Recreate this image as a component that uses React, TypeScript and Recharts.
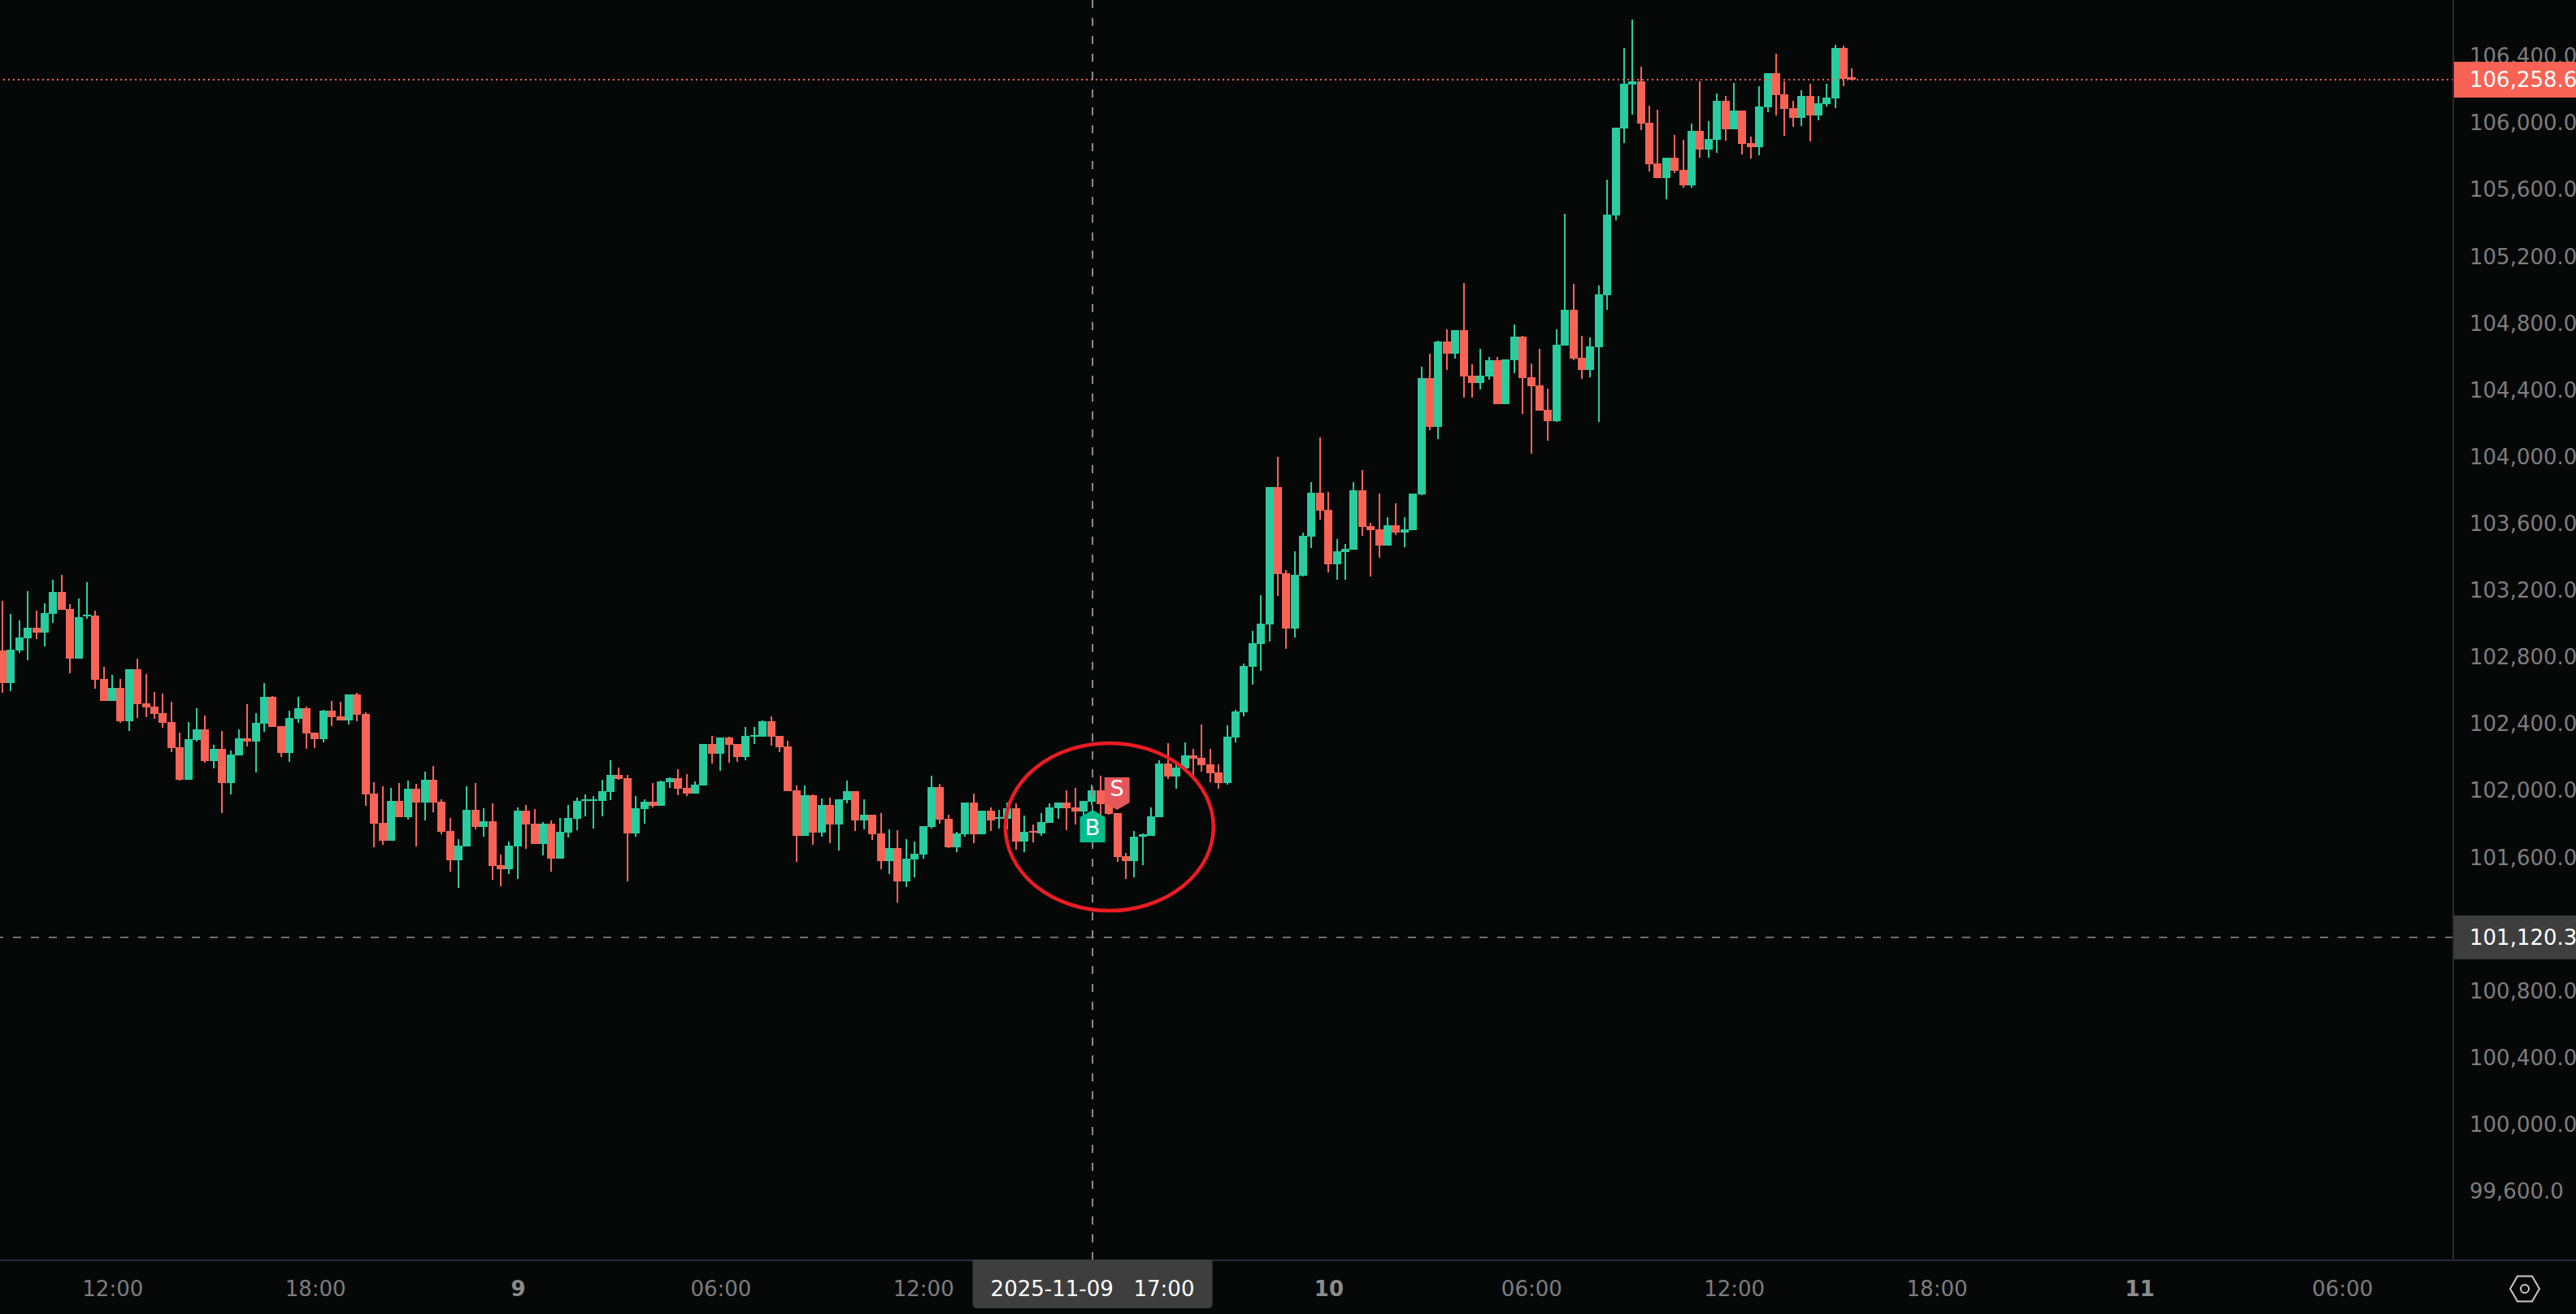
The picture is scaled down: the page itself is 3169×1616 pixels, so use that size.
import React from 'react';
import { ComposedChart, Bar, XAxis, YAxis, ReferenceLine, ReferenceDot } from 'recharts';

const opens = [
102838,102644,102838,102912,102975,102946,103058,103189,103087,102790,
103043,103048,102668,102536,102614,102415,102726,102522,102502,102463,
102410,102259,102064,102303,102366,102176,102249,102044,102210,102312,
102293,102400,102561,102385,102225,102429,102493,102346,102307,102478,
102444,102420,102575,102458,101981,101806,101698,101937,101840,102010,
101928,102064,101933,101758,101582,101665,101884,101782,101816,101553,
101529,101665,101879,101801,101680,101801,101592,101748,101831,101938,
101938,101938,101991,102094,102074,101743,101889,101933,101909,102050,
102074,102016,101982,102030,102279,102220,102318,102279,102201,102323,
102323,102415,102327,102264,102001,101728,101972,101748,101913,101797,
101943,101996,101821,101855,101743,101578,101656,101456,101587,101617,
101782,102021,101831,101661,101738,101928,101738,101880,101831,101831,
101894,101695,101758,101743,101807,101894,101928,101899,101875,101933,
102002,101922,101865,101607,101578,101724,101729,101841,102162,102084,
102133,102211,102196,102157,102108,102044,102317,102468,102742,102878,
102995,103817,103301,102971,103286,103521,103784,103681,103355,103428,
103443,103799,103584,103564,103467,103588,103545,103560,103775,104471,
104178,104690,104617,104758,104485,104441,104480,104578,104315,104578,
104719,104475,104427,104281,104212,104665,104880,104592,104519,104656,
104968,105445,105966,106229,106249,106000,105757,105669,105791,105718,
105625,105952,105840,105898,106132,105961,106074,105879,105854,106093,
106298,106171,106088,106030,106161,106044,106112,106147,106449,106273,
];
const closes = [
102644,102843,102916,102975,102946,103062,103189,103082,102790,103038,
103053,102663,102536,102614,102415,102726,102517,102497,102458,102405,
102254,102064,102307,102366,102176,102249,102044,102215,102312,102293,
102405,102561,102380,102225,102434,102493,102342,102307,102478,102439,
102420,102575,102454,101976,101801,101698,101937,101840,102010,101927,
102064,101928,101753,101582,101670,101884,101782,101816,101548,101529,
101670,101879,101796,101680,101801,101592,101753,101835,101938,101947,
101947,101996,102094,102069,101743,101894,101933,101909,102055,102074,
102011,101982,102035,102279,102220,102318,102274,102201,102327,102332,
102415,102323,102259,101996,101728,101972,101748,101913,101797,101948,
101996,101821,101855,101738,101578,101656,101456,101592,101622,101787,
102021,101826,101661,101743,101928,101738,101880,101821,101841,101894,
101695,101753,101751,101812,101899,101928,101894,101875,101938,102002,
101918,101858,101602,101578,101724,101738,101845,102162,102084,102138,
102211,102191,102152,102104,102045,102322,102473,102745,102883,102999,
103817,103297,102971,103292,103525,103784,103676,103355,103433,103448,
103799,103579,103560,103467,103588,103545,103564,103778,104471,104178,
104690,104617,104758,104480,104441,104485,104578,104315,104583,104719,
104471,104422,104276,104212,104670,104880,104588,104519,104661,104972,
105450,105971,106234,106249,105996,105752,105669,105791,105713,105625,
105952,105840,105903,106132,105961,106074,105874,105854,106098,106298,
106166,106083,106030,106161,106044,106117,106151,106449,106263,106258.6,
];
const highs = [
103136,103058,103019,103194,103077,103121,103262,103291,103116,103150,
103248,103077,102741,102692,102668,102726,102790,102697,102590,102580,
102531,102346,102410,102493,102449,102273,102356,102239,102366,102517,
102463,102644,102566,102385,102478,102561,102502,102346,102483,102536,
102531,102575,102585,102468,102049,102025,102015,102044,102059,102039,
102113,102147,101947,101835,101709,102025,102045,101894,101923,101616,
101694,101899,101913,101889,101811,101821,101835,101913,101957,101977,
101967,102064,102181,102137,102094,101967,101947,102045,102060,102079,
102128,102099,102055,102279,102327,102318,102323,102279,102381,102381,
102420,102444,102327,102298,102030,102030,101977,101952,101957,101948,
102060,101996,101948,101855,101865,101768,101763,101709,101695,101787,
102089,102040,101855,101753,101928,101982,101880,101899,101885,101928,
101924,101851,101797,101865,101923,101928,102002,102016,101938,102036,
102089,101938,101865,101626,101758,101743,101899,102181,102284,102157,
102289,102250,102396,102250,102157,102391,102483,102760,102956,103170,
103817,103998,103321,103433,103545,103847,104116,103789,103506,103476,
103847,103920,103603,103778,103638,103720,103638,103778,104539,104617,
104695,104763,104758,105041,104554,104646,104597,104597,104583,104792,
104724,104558,104646,104407,104763,105455,105036,104724,104714,105026,
105659,105971,106449,106619,106337,106103,106078,105791,105927,105898,
105996,106249,106010,106176,106161,106239,106074,105918,106220,106298,
106415,106249,106132,106195,106234,106161,106234,106468,106463,106327,
];
const lows = [
102585,102595,102824,102780,102907,102863,103004,103082,102702,102790,
103028,102609,102536,102536,102405,102356,102434,102439,102429,102376,
102229,102059,102064,102293,102166,102132,101864,101976,102210,102264,
102108,102351,102380,102200,102171,102405,102249,102254,102288,102385,
102420,102395,102415,101908,101660,101674,101698,101840,101825,101664,
101821,101870,101738,101514,101417,101665,101767,101723,101465,101426,
101499,101470,101650,101680,101611,101514,101592,101719,101762,101845,
101772,101845,101943,102064,101455,101723,101801,101899,101909,102016,
101972,101967,101982,102030,102162,102118,102167,102172,102181,102279,
102323,102269,102230,101996,101572,101728,101675,101723,101685,101641,
101923,101758,101768,101704,101529,101500,101329,101422,101480,101592,
101773,101802,101656,101631,101724,101685,101738,101758,101773,101768,
101646,101631,101690,101729,101807,101831,101763,101797,101849,101914,
101857,101856,101572,101470,101480,101553,101729,101841,102069,102011,
102133,102094,102113,102050,102011,102035,102289,102443,102634,102717,
102893,103165,102848,102917,103282,103452,103624,103307,103262,103262,
103443,103525,103282,103394,103467,103530,103458,103560,103769,104159,
104105,104519,104588,104354,104354,104402,104461,104315,104315,104500,
104256,104018,104276,104096,104208,104665,104578,104466,104475,104208,
104880,105416,105879,106049,105957,105708,105669,105543,105698,105611,
105611,105791,105791,105820,105893,105961,105810,105786,105806,106064,
106044,105923,105976,105981,105888,106015,106098,106088,106220,106254,
];

const priceTicks = [99600,100000,100400,100800,101200,101600,102000,102400,102800,103200,103600,104000,104400,104800,105200,105600,106000,106400];
const timeTickIndex = [13,37,61,85,109,157,181,205,229,253,277];
const timeTickLabels = ['12:00','18:00','9','06:00','12:00','10','06:00','12:00','18:00','11','06:00'];
const dayTicks = ['9','10','11'];

const lastPrice = 106258.6;
const crossPrice = 101120.3;
const crossIndex = 129;
const crossLabel = '2025-11-09\u00a0\u00a0\u00a017:00';
const buyMark = { index: 129, price: 101884 };
const sellMark = { index: 131.9, price: 101884 };
const circleCentre = { index: 131, price: 101782 };
const xDomain = [-0.356, 290.11];
const yDomain = [99185.4, 106736];

const UP = '#29cc9e';
const DOWN = '#f96355';
const BG = '#060808';
const LINE = '#2a2c33';
const BOX = '#3e3e3e';
const FONT = '"DejaVu Sans", sans-serif';
const WIDTH = 3169;
const HEIGHT = 1616;
const PLOT_W = 3018;
const PLOT_H = 1550;

const data = opens.map((open, i) => ({
  i, open, close: closes[i], high: highs[i], low: lows[i], range: [lows[i], highs[i]],
}));

const fmt = (v: number) => v.toLocaleString('en-US', { minimumFractionDigits: 1, maximumFractionDigits: 1 });
const xOf = (i: number) => ((i - xDomain[0]) / (xDomain[1] - xDomain[0])) * PLOT_W;
const yOf = (p: number) => ((yDomain[1] - p) / (yDomain[1] - yDomain[0])) * PLOT_H;

function Candle(props: any) {
  const { x, y, width, height, payload } = props;
  const top = Math.min(y, y + height);
  const h = Math.abs(height);
  const span = payload.high - payload.low || 1;
  const toY = (p: number) => top + ((payload.high - p) / span) * h;
  const color = payload.close >= payload.open ? UP : DOWN;
  const bodyTop = toY(Math.max(payload.open, payload.close));
  const bodyBot = toY(Math.min(payload.open, payload.close));
  const left = Math.floor(x + width / 2 - 5);
  return (
    <g shapeRendering="crispEdges">
      <rect x={left + 4} y={top} width={2} height={Math.max(h, 1)} fill={color} />
      <rect x={left} y={bodyTop} width={10} height={Math.max(bodyBot - bodyTop, 2)} fill={color} />
    </g>
  );
}

function TimeTick(props: any) {
  const { x, y, payload } = props;
  const label = timeTickLabels[timeTickIndex.indexOf(payload.value)];
  const isDay = dayTicks.includes(label);
  return (
    <text x={x} y={y} textAnchor="middle" dominantBaseline="central" fill={isDay ? '#8c8c8c' : '#7d7d7d'}
      fontFamily={FONT} fontSize={26} fontWeight={isDay ? 700 : 400}>{label}</text>
  );
}

function PriceBox({ price, fill, boxHeight }: any) {
  const cy = yOf(price);
  return (
    <g>
      <rect x={3019} y={cy - boxHeight / 2} width={150} height={boxHeight} fill={fill} />
      <text x={3038} y={cy} dominantBaseline="central" fill="#ffffff" fontFamily={FONT} fontSize={26}>{fmt(price)}</text>
    </g>
  );
}

function TimeBox({ index, text }: any) {
  const cx = xOf(index);
  const top = 1549;
  const w = 295;
  const h = 60;
  const r = 5;
  const d = `M${cx - w / 2},${top} h${w} v${h - r} a${r},${r} 0 0 1 ${-r},${r} h${-(w - 2 * r)} a${r},${r} 0 0 1 ${-r},${-r} z`;
  return (
    <g>
      <path d={d} fill={BOX} />
      <text x={cx} y={1585} textAnchor="middle" dominantBaseline="central" fill="#ffffff" fontFamily={FONT} fontSize={26}>{text}</text>
    </g>
  );
}

function BuyShape(props: any) {
  const { cx, cy } = props;
  return (
    <g>
      <path d={`M${cx},${cy} l15.5,9 v31 h-31 v-31 z`} fill="#00bd8c" />
      <text x={cx} y={cy + 31} textAnchor="middle" fill="#ffffff" fontFamily={FONT} fontSize={27}>B</text>
    </g>
  );
}

function SellShape(props: any) {
  const { cx, cy } = props;
  return (
    <g>
      <path d={`M${cx},${cy} l15.5,-9 v-31 h-31 v31 z`} fill="#e4575a" />
      <text x={cx} y={cy - 17} textAnchor="middle" fill="#ffffff" fontFamily={FONT} fontSize={27}>S</text>
    </g>
  );
}

function CircleShape(props: any) {
  const { cx, cy } = props;
  return <ellipse cx={cx} cy={cy} rx={128} ry={103} fill="none" stroke="#ec1c24" strokeWidth={4.5} />;
}

export default function App() {
  return (
    <div style={{ position: 'absolute', left: 0, top: 0, width: WIDTH, height: HEIGHT, background: BG, overflow: 'hidden' }}>
      <ComposedChart width={WIDTH} height={HEIGHT} data={data} margin={{ top: 0, right: 0, bottom: 0, left: 0 }}>
        <XAxis
          dataKey="i" type="number" domain={xDomain} ticks={timeTickIndex} interval={0}
          height={HEIGHT - PLOT_H} axisLine={{ stroke: LINE, strokeWidth: 2 }} tickLine={false} tickMargin={0}
          tick={(p: any) => <TimeTick {...p} y={1585} />} allowDataOverflow
        />
        <YAxis
          orientation="right" type="number" domain={yDomain} ticks={priceTicks} interval={0}
          width={WIDTH - PLOT_W} axisLine={{ stroke: LINE, strokeWidth: 2 }} tickLine={false} tickSize={0} tickMargin={20}
          tickFormatter={fmt} allowDataOverflow
          tick={{ fill: '#7d7d7d', fontFamily: FONT, fontSize: 26, textAnchor: 'start' }}
        />
        <Bar dataKey="range" barSize={10} shape={<Candle />} isAnimationActive={false} />
        <ReferenceLine y={lastPrice} stroke={DOWN} strokeWidth={2} strokeDasharray="2 4" />
        <ReferenceDot x={buyMark.index} y={buyMark.price} shape={<BuyShape />} ifOverflow="visible" />
        <ReferenceDot x={sellMark.index} y={sellMark.price} shape={<SellShape />} ifOverflow="visible" />
        <ReferenceLine y={crossPrice} stroke="#8f8f8f" strokeWidth={1.5} strokeDasharray="10 12" />
        <ReferenceLine x={crossIndex} stroke="#8a8a8a" strokeWidth={2} strokeDasharray="10 12" />
        <ReferenceDot x={circleCentre.index} y={circleCentre.price} shape={<CircleShape />} ifOverflow="visible" />
      </ComposedChart>
      <svg style={{ position: 'absolute', left: 0, top: 0, pointerEvents: 'none' }} width={WIDTH} height={HEIGHT}>
        <PriceBox price={lastPrice} fill={DOWN} boxHeight={44} />
        <PriceBox price={crossPrice} fill={BOX} boxHeight={54} />
        <TimeBox index={crossIndex} text={crossLabel} />
        <rect x={3019} y={1549} width={150} height={2} fill={LINE} />
        <g transform="translate(3086,1567)">
          <path d="M11,2.5 H29 L38,18 L29,33.5 H11 L2,18 Z" fill="none" stroke="#c8c8c8" strokeWidth={2} />
          <circle cx={20} cy={18} r={5} fill="none" stroke="#c8c8c8" strokeWidth={2} />
        </g>
      </svg>
    </div>
  );
}
